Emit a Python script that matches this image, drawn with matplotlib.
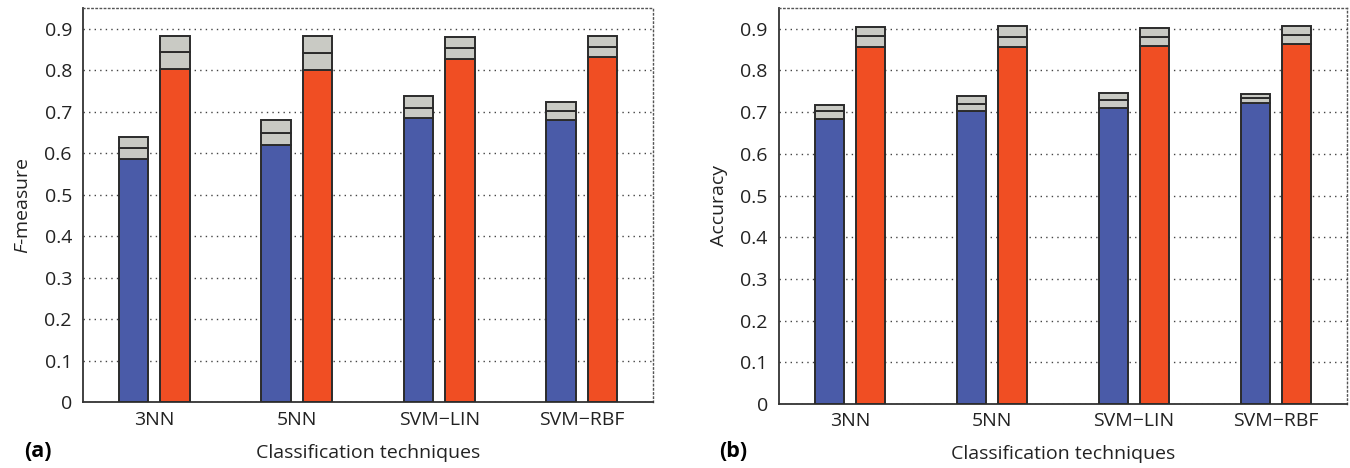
import matplotlib
matplotlib.use("Agg")
import matplotlib.pyplot as plt
import numpy as np

# ---- data ----
methods = ["3NN", "5NN", "SVM\u2212LIN", "SVM\u2212RBF"]
yticks = [0, 0.1, 0.2, 0.3, 0.4, 0.5, 0.6, 0.7, 0.8, 0.9]

# F-measure (panel a): stacked levels (base, middle line, top)
f_blue_base = [0.586, 0.619, 0.684, 0.681]
f_blue_mid = [0.613, 0.649, 0.710, 0.703]
f_blue_top = [0.640, 0.680, 0.738, 0.723]
f_red_base = [0.804, 0.800, 0.828, 0.832]
f_red_mid = [0.844, 0.841, 0.853, 0.857]
f_red_top = [0.883, 0.882, 0.879, 0.883]

# Accuracy (panel b)
a_blue_base = [0.684, 0.702, 0.710, 0.722]
a_blue_mid = [0.702, 0.720, 0.729, 0.734]
a_blue_top = [0.718, 0.738, 0.747, 0.744]
a_red_base = [0.857, 0.856, 0.859, 0.864]
a_red_mid = [0.882, 0.881, 0.880, 0.885]
a_red_top = [0.905, 0.906, 0.901, 0.906]

BLUE = "#4a5ba8"
RED = "#f04e23"
GRAY = "#c9cac4"
EDGE = "#2b2b2b"

plt.rcParams["font.family"] = ["Open Sans", "DejaVu Sans"]
plt.rcParams["mathtext.fontset"] = "custom"
plt.rcParams["mathtext.it"] = "Open Sans:italic"
plt.rcParams["mathtext.rm"] = "Open Sans"

fig = plt.figure(figsize=(13.5, 4.68), dpi=100)
ax1 = fig.add_axes([0.0615, 0.140, 0.4222, 0.843])
ax2 = fig.add_axes([0.577, 0.137, 0.4207, 0.846])

FS = 14


def draw(ax, bb, bm, bt, rb, rm, rt, ylabel):
    x = np.arange(1, len(methods) + 1)
    w = 0.205
    off = 0.145
    kw = dict(width=w, edgecolor=EDGE, linewidth=1.4, zorder=3)
    bb = np.array(bb); bm = np.array(bm); bt = np.array(bt)
    rb = np.array(rb); rm = np.array(rm); rt = np.array(rt)
    ax.bar(x - off, bb, color=BLUE, **kw)
    ax.bar(x - off, bm - bb, bottom=bb, color=GRAY, **kw)
    ax.bar(x - off, bt - bm, bottom=bm, color=GRAY, **kw)
    ax.bar(x + off, rb, color=RED, **kw)
    ax.bar(x + off, rm - rb, bottom=rb, color=GRAY, **kw)
    ax.bar(x + off, rt - rm, bottom=rm, color=GRAY, **kw)
    ax.set_xlim(0.5, 4.5)
    ax.set_ylim(0, 0.95)
    ax.set_yticks(yticks)
    ax.set_yticklabels([f"{v:g}" for v in yticks])
    ax.set_xticks(x)
    ax.set_xticklabels(methods)
    ax.tick_params(axis="both", length=0, labelsize=FS, colors="#222222")
    ax.tick_params(axis="y", pad=8)
    ax.tick_params(axis="x", pad=6)
    ax.yaxis.grid(True, linestyle=(0, (1, 3)), color="#444444", linewidth=1.0, zorder=0)
    ax.set_axisbelow(True)
    for s in ("top", "right"):
        ax.spines[s].set_linestyle((0, (1, 2)))
        ax.spines[s].set_color("#555555")
        ax.spines[s].set_linewidth(1.0)
    for s in ("left", "bottom"):
        ax.spines[s].set_color("#333333")
        ax.spines[s].set_linewidth(1.3)
    ax.set_xlabel("Classification techniques", fontsize=FS, labelpad=11, color="#222222")
    ax.set_ylabel(ylabel, fontsize=FS, labelpad=9, color="#222222")


draw(ax1, f_blue_base, f_blue_mid, f_blue_top, f_red_base, f_red_mid, f_red_top,
     r"$\mathit{F}$-measure")
draw(ax2, a_blue_base, a_blue_mid, a_blue_top, a_red_base, a_red_mid, a_red_top,
     "Accuracy")

fig.text(0.018, 0.035, "(a)", fontsize=15.5, fontweight="bold", va="center", ha="left")
fig.text(0.533, 0.035, "(b)", fontsize=15.5, fontweight="bold", va="center", ha="left")

fig.savefig("out.png", dpi=100)
